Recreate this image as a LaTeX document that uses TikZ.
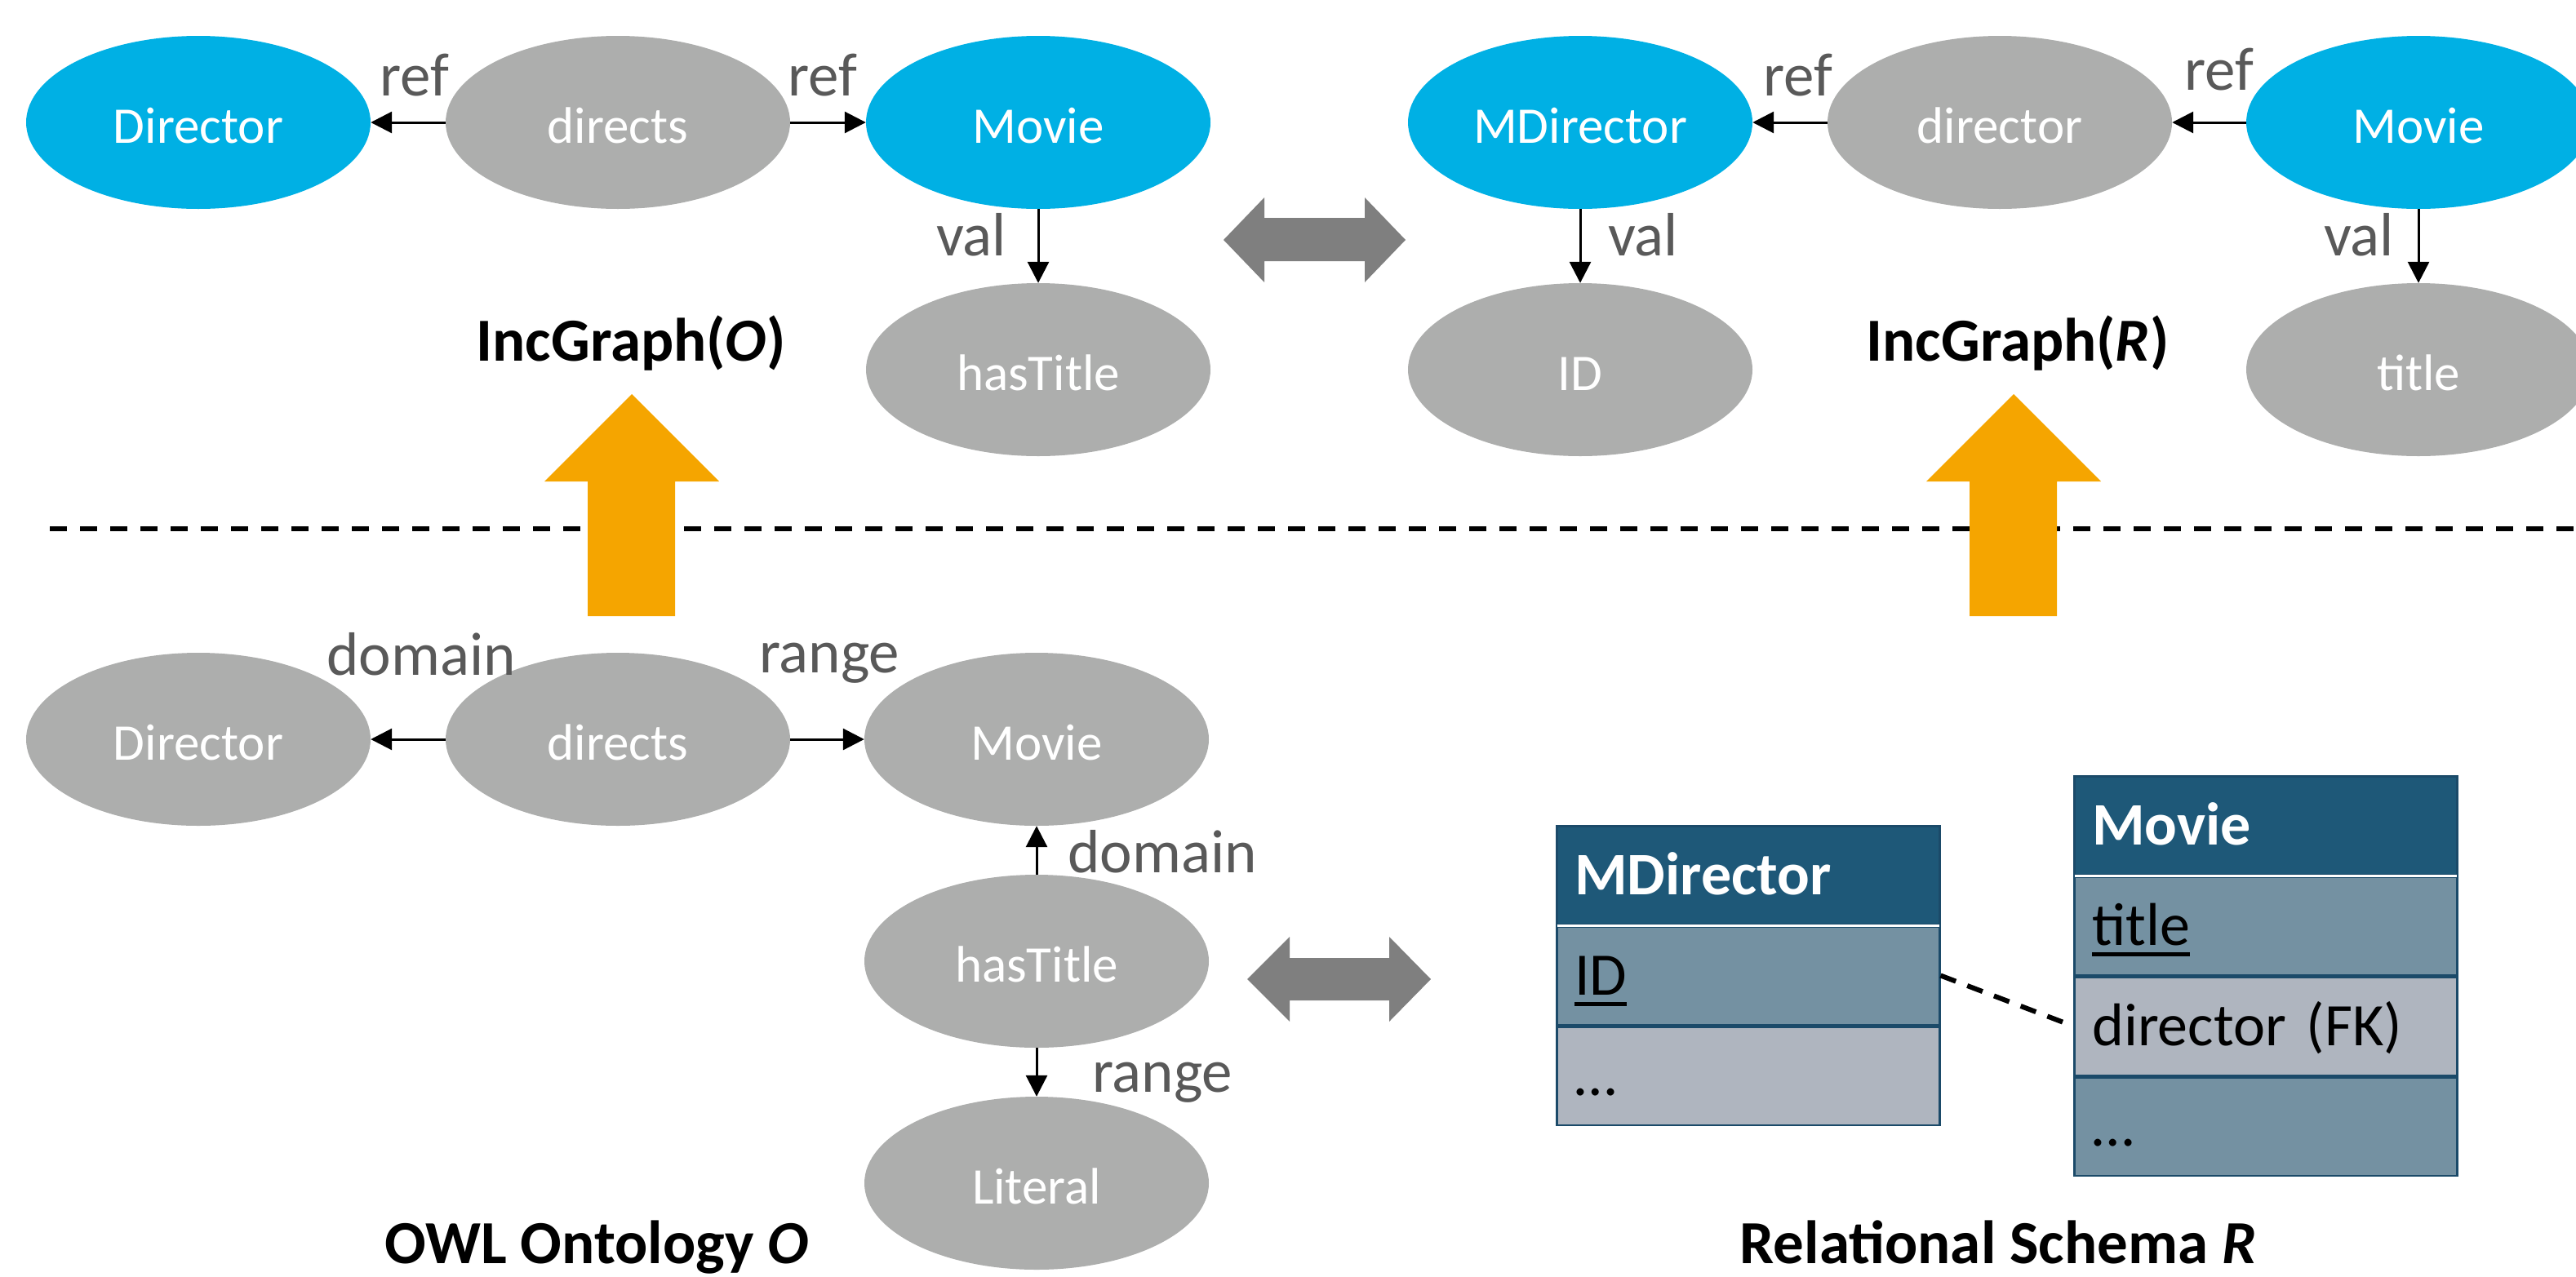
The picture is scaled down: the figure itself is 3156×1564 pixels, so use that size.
\documentclass[tikz,border=0pt]{standalone}
\usepackage{fontspec}
\setmainfont{Carlito}
\usetikzlibrary{shapes.geometric,arrows.meta}

\definecolor{nodeblue}{HTML}{00B0E4}
\definecolor{nodegray}{HTML}{ADAEAD}
\definecolor{labelgray}{HTML}{595959}
\definecolor{hdrblue}{HTML}{1E5878}
\definecolor{rowmid}{HTML}{7491A2}
\definecolor{rowlight}{HTML}{AFB5BF}
\definecolor{tblline}{HTML}{1B4A69}
\definecolor{liftorange}{HTML}{F5A500}
\definecolor{mapgray}{HTML}{7F7F7F}

% underlined key attribute with a heavy rule
\newsavebox\keybox
\newcommand\keyattr[1]{\sbox\keybox{#1}\rlap{\vrule width\wd\keybox height -8pt depth 13pt}\usebox\keybox}

\begin{document}
\begin{tikzpicture}[x=1pt,y=-1pt,
  ent/.style={ellipse, fill=nodeblue, minimum width=422pt, minimum height=212pt,
    inner sep=0pt, text=white, font=\fontsize{63}{63}\selectfont,
    text height=50pt, text depth=0pt},
  att/.style={ent, fill=nodegray},
  rel/.style={-{Triangle[length=26pt,width=26pt]}, line width=3pt},
  lbl/.style={text=labelgray, font=\fontsize{75}{75}\selectfont, anchor=base, inner sep=0pt},
  ttl/.style={text=black, font=\fontsize{75}{75}\selectfont\bfseries, anchor=base, inner sep=0pt},
  cell/.style={rectangle, draw=tblline, line width=2.5pt, minimum width=469pt,
    minimum height=120.5pt, text width=425pt, inner xsep=22pt, inner ysep=0pt,
    align=left, anchor=north west, font=\fontsize{74}{74}\selectfont,
    text height=48pt, text depth=0pt, fill=rowmid, text=black},
  hdr/.style={cell, fill=hdrblue, text=white, font=\fontsize{74}{74}\selectfont\bfseries},
  lift/.style={fill=liftorange},
  swap/.style={fill=mapgray}]

\useasboundingbox (0,0) rectangle (3156,1564);

% ---------- separator between the two layers ----------
\draw[line width=6pt, dash pattern=on 21pt off 16pt] (61,648) -- (3156,648);

% ---------- IncGraph(O) ----------
\node[ent] (gDir)   at (243,150)  {Director};
\node[att] (gDirs)  at (757,150)  {directs};
\node[ent] (gMov)   at (1272,150) {Movie};
\node[att] (gHas)   at (1272,453) {hasTitle};
\draw[rel] (gDirs.west) -- (gDir.east);
\draw[rel] (gDirs.east) -- (gMov.west);
\draw[rel] (gMov.south) -- (gHas.north);
\node[lbl] (lRef1) at (508,117)  {ref};
\node[lbl] (lRef2) at (1008,117) {ref};
\node[lbl] (lVal1) at (1190,313) {val};
\node[ttl] (tIncO) at (773,442) {IncGraph(\textit{O})};

% ---------- IncGraph(R) ----------
\node[ent] (rMDir)  at (1936,150) {MDirector};
\node[att] (rDir)   at (2450,150) {director};
\node[ent] (rMov)   at (2963,150) {Movie};
\node[att] (rID)    at (1936,453) {ID};
\node[att] (rTitle) at (2963,453) {title};
\draw[rel] (rDir.west) -- (rMDir.east);
\draw[rel] (rMov.west) -- (rDir.east);
\draw[rel] (rMDir.south) -- (rID.north);
\draw[rel] (rMov.south) -- (rTitle.north);
\node[lbl] (lRef3) at (2203,117) {ref};
\node[lbl] (lRef4) at (2719,110) {ref};
\node[lbl] (lVal2) at (2013,313) {val};
\node[lbl] (lVal3) at (2890,313) {val};
\node[ttl] (tIncR) at (2472,442) {IncGraph(\textit{R})};

% ---------- correspondence arrows ----------
\fill[swap] (1499,294) -- (1549,242) -- (1549,267) -- (1672,267) -- (1672,242)
  -- (1722,294) -- (1672,346) -- (1672,320) -- (1549,320) -- (1549,346) -- cycle;
\fill[swap] (1528,1200) -- (1580,1148) -- (1580,1174) -- (1702,1174) -- (1702,1148)
  -- (1753,1200) -- (1702,1252) -- (1702,1226) -- (1580,1226) -- (1580,1252) -- cycle;

% ---------- lifting arrows ----------
\fill[lift] (774,483) -- (881,590) -- (827,590) -- (827,755) -- (720,755)
  -- (720,590) -- (667,590) -- cycle;
\fill[lift] (2467,483) -- (2574,590) -- (2520,590) -- (2520,755) -- (2413,755)
  -- (2413,590) -- (2360,590) -- cycle;

% ---------- OWL ontology O ----------
\node[att] (oDir)  at (243,906)   {Director};
\node[att] (oDirs) at (757,906)   {directs};
\node[att] (oMov)  at (1270,906)  {Movie};
\node[att] (oHas)  at (1270,1178) {hasTitle};
\node[att] (oLit)  at (1270,1450) {Literal};
\draw[rel] (oDirs.west) -- (oDir.east);
\draw[rel] (oDirs.east) -- (oMov.west);
\draw[rel] (oHas.north) -- (oMov.south);
\draw[rel] (oHas.south) -- (oLit.north);
\node[lbl] (lDom1) at (516,827)   {domain};
\node[lbl] (lRng1) at (1016,824)  {range};
\node[lbl] (lDom2) at (1424,1069) {domain};
\node[lbl] (lRng2) at (1424,1338) {range};
\node[ttl] (tOwl)  at (731,1548)  {OWL Ontology \textit{O}};

% ---------- relational schema R ----------
\node[hdr] (mdHead) at (1906,1011) {MDirector};
\node[cell] (mdID)   at (mdHead.south west) {\keyattr{ID}};
\node[cell, fill=rowlight] (mdMore) at (mdID.south west) {…};
\draw[white, line width=3pt] ([xshift=1.5pt]mdHead.south west) -- ([xshift=-1.5pt]mdHead.south east);

\node[hdr] (mvHead) at (2540,950) {Movie};
\node[cell] (mvTitle) at (mvHead.south west) {\keyattr{title}};
\node[cell, fill=rowlight] (mvDir) at (mvTitle.south west) {director (FK)};
\node[cell] (mvMore) at (mvDir.south west) {…};
\draw[white, line width=3pt] ([xshift=1.5pt]mvHead.south west) -- ([xshift=-1.5pt]mvHead.south east);

\draw[line width=6pt, dash pattern=on 20pt off 15pt] (mdID.east) -- (mvDir.west);

\node[ttl] (tRel) at (2448,1548) {Relational Schema \textit{R}};

\end{tikzpicture}
\end{document}
